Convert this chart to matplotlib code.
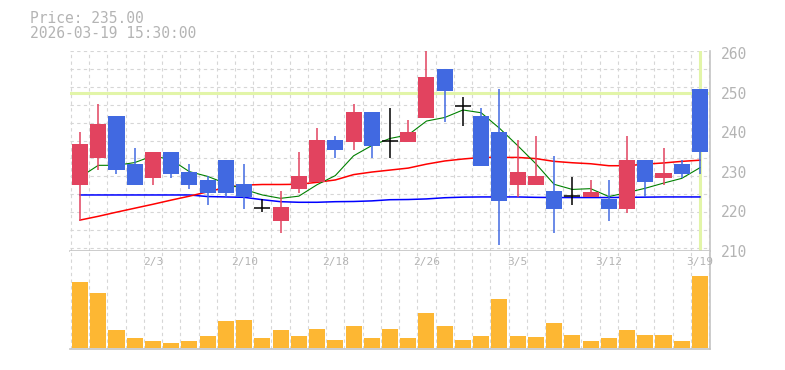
import numpy as np
import matplotlib.pyplot as plt
from matplotlib.transforms import blended_transform_factory

dates = ['1/28', '1/29', '1/30', '2/2', '2/3', '2/4', '2/5', '2/6', '2/9', '2/10',
         '2/12', '2/13', '2/16', '2/17', '2/18', '2/19', '2/20', '2/24', '2/25', '2/26',
         '2/27', '3/2', '3/3', '3/4', '3/5', '3/6', '3/9', '3/10', '3/11', '3/12',
         '3/13', '3/16', '3/17', '3/18', '3/19']
shown_dates = ['2/3', '2/10', '2/18', '2/26', '3/5', '3/12', '3/19']

opens = [226.5, 233.5, 244, 232, 228.5, 235, 230, 228, 233, 227,
         220.75, 217.5, 225.5, 227.5, 238, 237.5, 245, 237.75, 237.5, 243.5,
         256, 246.5, 244, 240, 226.5, 226.5, 225, 223.75, 223.5, 223,
         220.5, 233, 228.5, 232, 251]
highs = [240, 247, 244, 236, 235, 235, 232, 229, 233, 232,
         223, 225, 235, 241, 239, 247, 245, 246, 243, 261,
         256, 249, 246, 251, 238, 239, 234, 228.75, 228, 228,
         239, 233, 236, 233, 251]
lows = [217.5, 230.5, 229.5, 226.5, 226.5, 228.5, 225.5, 221.5, 223.5, 220.5,
        219.75, 214.5, 224.5, 227.5, 233.5, 235.5, 233.5, 233.5, 237.5, 243.5,
        242.5, 241.5, 231.5, 211.5, 223.5, 226.5, 214.5, 221.5, 223.5, 217.5,
        219.5, 223.5, 226.5, 228.5, 229.5]
closes = [237, 242, 230.5, 226.5, 235, 229.5, 226.5, 224.5, 224.5, 223.5,
          220.75, 221, 229, 238, 235.5, 245, 236.5, 237.75, 240, 254,
          250.5, 246.5, 231.5, 222.5, 230, 229, 220.5, 223.75, 224.75, 220.5,
          233, 227.5, 229.75, 229.5, 235]
volume = [65300, 54300, 17300, 9300, 6300, 5000, 6300, 11300, 26300, 27300,
          9300, 17300, 11300, 18300, 7300, 21300, 9300, 18300, 9300, 34300,
          22000, 7300, 11300, 48300, 11300, 10300, 24300, 12300, 6300, 9300,
          17300, 12300, 12300, 6300, 71300]

ma5 = [228.6, 231.6, 231.6, 232.3, 234, 233, 230, 228.8, 227, 225.5,
       224.1, 223.25, 223.8, 226.7, 229, 234, 236.6, 238.4, 239.3, 242.8,
       243.7, 245.6, 244.9, 241, 236.6, 232, 226.8, 225.5, 225.7, 223.7,
       224.7, 225.8, 227.1, 228.3, 231]
ma25 = [217.75, 218.7, 219.75, 220.75, 221.75, 222.8, 223.8, 224.9, 226, 226.6,
        226.75, 226.75, 226.8, 227.3, 227.9, 229.25, 229.9, 230.4, 230.9, 231.9,
        232.7, 233.2, 233.6, 233.6, 233.6, 233.3, 232.6, 232.25, 232, 231.5,
        231.5, 231.9, 232.2, 232.6, 232.9]
ma75 = [224.1, 224.1, 224.1, 224.1, 224.1, 224.1, 224.1, 223.7, 223.6, 223.5,
        222.9, 222.4, 222.25, 222.25, 222.4, 222.45, 222.6, 222.9, 222.95, 223.1,
        223.4, 223.55, 223.6, 223.6, 223.6, 223.5, 223.45, 223.45, 223.45, 223.45,
        223.5, 223.55, 223.6, 223.6, 223.6]

price_line = 250
last_time = '2026-03-19 15:30:00'

up_col = '#e2435f'
down_col = '#4169e1'
vol_col = '#fdb733'
hl_col = '#e2f5a8'
grid_col = '#d6d6d6'
txt_col = '#b4b4b4'
spine_col = '#c4c4c4'

n = len(dates)
x = np.arange(n)
o = np.array(opens); c = np.array(closes)
h = np.array(highs); l = np.array(lows)
w = 0.88

W, H = 785, 370
fig = plt.figure(figsize=(W / 100, H / 100), dpi=100)
ax = fig.add_axes([70 / W, 1 - 250.7 / H, 640 / W, 200 / H])
axv = fig.add_axes([70 / W, 1 - 349 / H, 640 / W, 98.3 / H])

xlim = (-0.55, n - 0.45)
ylim = (210.6, 260.6)

for a in (ax, axv):
    a.set_xlim(*xlim)
    a.set_xticks([])
    for s in ('left', 'top'):
        a.spines[s].set_visible(False)
    for s in ('right', 'bottom'):
        a.spines[s].set_color(spine_col)
        a.spines[s].set_linewidth(1.2)
    a.vlines(np.arange(-0.5, n, 1.0), 0, 1, transform=blended_transform_factory(a.transData, a.transAxes),
             colors=grid_col, linestyles=(0, (3, 3)), linewidth=0.8, zorder=0)

ax.set_ylim(*ylim)
ax.hlines(np.linspace(ylim[0], ylim[1], 12), xlim[0], xlim[1], colors=grid_col,
          linestyles=(0, (3, 3)), linewidth=0.8, zorder=0)

# current price markers
ax.axhline(price_line, color=hl_col, linewidth=2.2, zorder=1)
ax.axvline(x[-1], color=hl_col, linewidth=2.2, zorder=1)

# moving averages
ax.plot(x, ma75, color='#0000ff', linewidth=1.1, zorder=2)
ax.plot(x, ma25, color='#ff0000', linewidth=1.1, zorder=2)
ax.plot(x, ma5, color='#008000', linewidth=0.8, zorder=2)

doji = o == c
up = c > o
down = c < o
cols = np.where(up, up_col, down_col)

# wicks
nd = ~doji
ax.vlines(x[nd], l[nd], h[nd], colors=cols[nd], linewidth=1.1, zorder=3)
ax.bar(x[nd], np.abs(c - o)[nd], bottom=np.minimum(o, c)[nd], width=w,
       color=cols[nd], linewidth=0, zorder=4)
# doji crosses
ax.vlines(x[doji], l[doji], h[doji], colors='black', linewidth=1.1, zorder=4)
ax.hlines(o[doji], x[doji] - w / 2, x[doji] + w / 2, colors='black', linewidth=1.1, zorder=4)

ax.yaxis.tick_right()
ax.set_yticks(np.arange(210, 261, 10))
ax.tick_params(axis='y', length=0, pad=7.5, labelsize=10.5, labelcolor=txt_col)
for t in ax.get_yticklabels():
    t.set_family('DejaVu Sans Mono')

# volume
axv.bar(x, volume, width=w, color=vol_col, linewidth=0, zorder=2)
axv.set_ylim(-1200, max(volume) * 1.36)
axv.set_yticks([])
tr = blended_transform_factory(axv.transData, axv.transAxes)
for d in shown_dates:
    i = dates.index(d)
    axv.text(i, 0.885, d, transform=tr, ha='center', va='center',
             fontsize=8, color=txt_col, family='DejaVu Sans Mono', zorder=3)

fig.text(30 / W, 1 - 11 / H, f'Price: {closes[-1]:.2f}', ha='left', va='top',
         fontsize=10.5, color=txt_col, family='DejaVu Sans Mono')
fig.text(30 / W, 1 - 26 / H, last_time, ha='left', va='top',
         fontsize=10.5, color=txt_col, family='DejaVu Sans Mono')

fig.savefig('out.png', dpi=100)
